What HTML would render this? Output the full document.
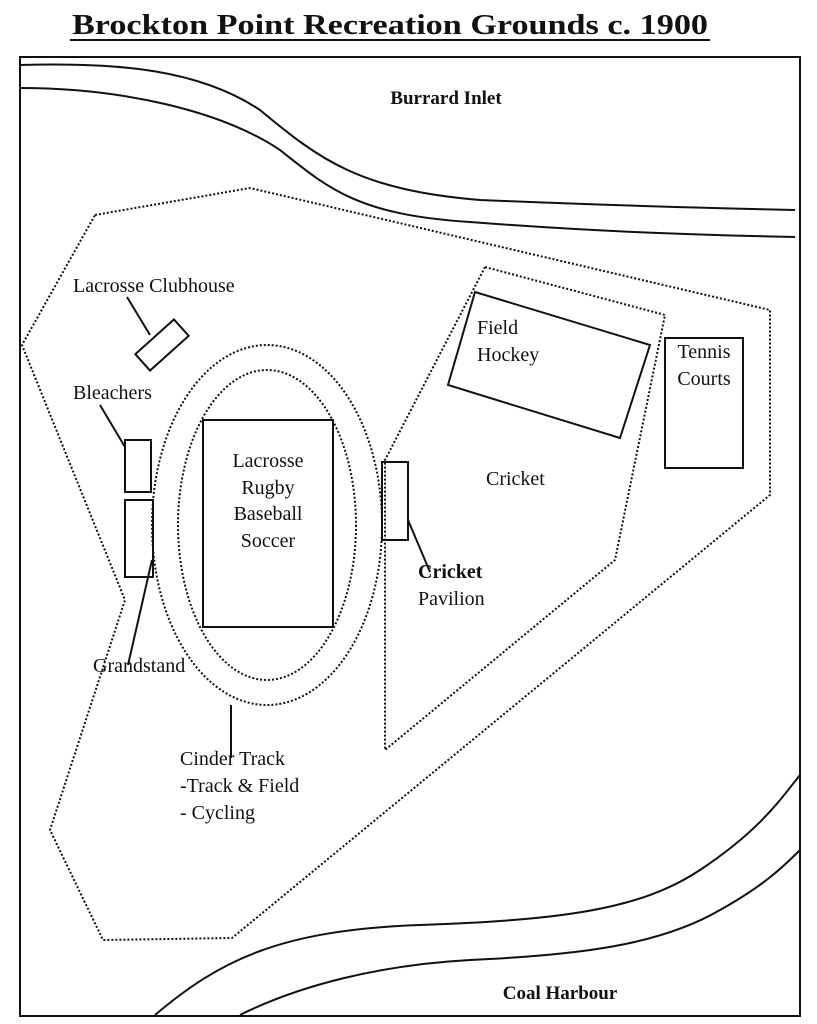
<!DOCTYPE html>
<html><head><meta charset="utf-8"><style>
body{margin:0;background:#fff}
svg{display:block}
text{font-family:"Liberation Serif",serif;font-size:20px;fill:#111}
</style></head><body>
<svg width="817" height="1024" viewBox="0 0 817 1024">
<rect width="817" height="1024" fill="#fff"/>
<text x="72" y="34" textLength="636" lengthAdjust="spacingAndGlyphs" style="font-size:29px;font-weight:bold">Brockton Point Recreation Grounds c. 1900</text>
<line x1="70" y1="40" x2="710" y2="40" stroke="#111" stroke-width="2"/>
<rect x="20" y="57" width="780" height="959" fill="none" stroke="#111" stroke-width="2"/>
<g fill="none" stroke="#111" stroke-width="2">
<path d="M20,65 C120,62 200,70 260,110 C320,160 360,190 480,200 C600,205 700,208 795,210"/>
<path d="M20,88 C120,88 220,110 280,150 C330,190 360,215 470,222 C600,232 700,235 795,237"/>
<path d="M155,1015 C220,960 280,930 420,925 C560,920 640,910 700,870 C760,830 780,800 800,775"/>
<path d="M240,1015 C300,985 380,965 470,960 C580,955 660,945 720,910 C765,885 785,865 800,850"/>
</g>
<g fill="none" stroke="#111" stroke-width="2" stroke-dasharray="2,2">
<path d="M95,215 L250,188 L770,310 L770,495 L232,938 L103,940 L50,830 L125,600 L22,345 Z"/>
<path d="M485,267 L665,315 L615,560 L385,750 L385,460 Z"/>
<ellipse cx="267" cy="525" rx="115" ry="180"/>
<ellipse cx="267" cy="525" rx="89" ry="155"/>
</g>
<g fill="none" stroke="#111" stroke-width="2">
<rect x="203" y="420" width="130" height="207"/>
<rect x="125" y="440" width="26" height="52"/>
<rect x="125" y="500" width="28" height="77"/>
<rect x="382" y="462" width="26" height="78"/>
<polygon points="475,292 650,345 620,438 448,385"/>
<rect x="665" y="338" width="78" height="130"/>
<rect x="-26" y="-11" width="52" height="22" transform="translate(162,345) rotate(-42)"/>
<line x1="127" y1="297" x2="150" y2="335"/>
<line x1="100" y1="405" x2="125" y2="447"/>
<line x1="152" y1="560" x2="128" y2="665"/>
<line x1="408" y1="520" x2="430" y2="572"/>
<line x1="231" y1="705" x2="231" y2="758"/>
</g>
<text x="446" y="104" text-anchor="middle" style="font-weight:bold;font-size:19px">Burrard Inlet</text>
<text x="560" y="999" text-anchor="middle" style="font-weight:bold;font-size:19px">Coal Harbour</text>
<text x="73" y="292">Lacrosse Clubhouse</text>
<text x="73" y="399">Bleachers</text>
<text x="268" y="467" text-anchor="middle">Lacrosse</text>
<text x="268" y="494" text-anchor="middle">Rugby</text>
<text x="268" y="520" text-anchor="middle">Baseball</text>
<text x="268" y="547" text-anchor="middle">Soccer</text>
<text x="93" y="672">Grandstand</text>
<text x="180" y="765">Cinder Track</text>
<text x="180" y="792">-Track &amp; Field</text>
<text x="180" y="819">- Cycling</text>
<text x="418" y="578" style="font-weight:bold">Cricket</text>
<text x="418" y="605">Pavilion</text>
<text x="486" y="485">Cricket</text>
<text x="477" y="334">Field</text>
<text x="477" y="361">Hockey</text>
<text x="704" y="358" text-anchor="middle">Tennis</text>
<text x="704" y="385" text-anchor="middle">Courts</text>
</svg>
</body></html>
